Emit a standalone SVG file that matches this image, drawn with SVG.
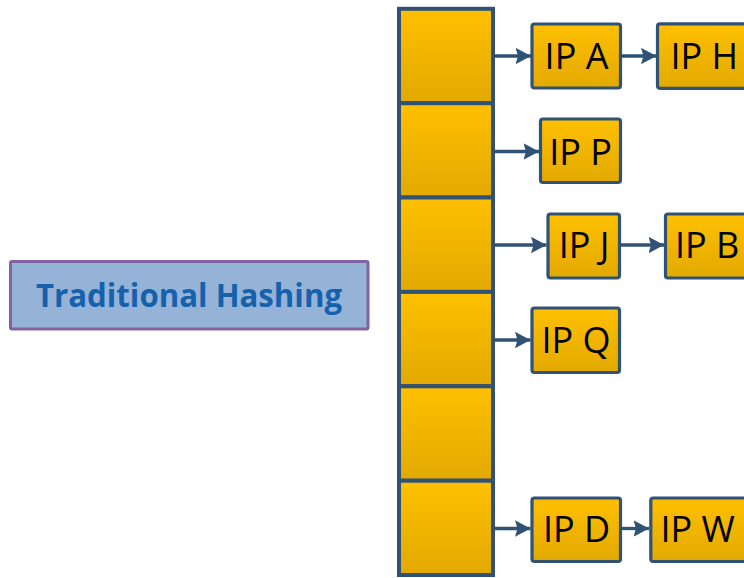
<svg xmlns="http://www.w3.org/2000/svg" width="744" height="578" viewBox="0 0 744 578">
  <defs>
    <linearGradient id="gold" x1="0" y1="0" x2="0" y2="1">
      <stop offset="0" stop-color="#FFC000"/>
      <stop offset="1" stop-color="#E2A900"/>
    </linearGradient>
    <marker id="arrow" markerUnits="userSpaceOnUse" markerWidth="16" markerHeight="17" viewBox="0 0 16 17" refX="15.5" refY="8.5" orient="auto">
      <path d="M0,0.3 L15.5,8.5 L0,16.7 L2.5,8.5 Z" fill="#2F5275"/>
    </marker>
  </defs>
  <style>
    .cell { fill: url(#gold); stroke: #2F5275; stroke-width: 4; }
    .ip rect { fill: url(#gold); stroke: #2F5275; stroke-width: 3.2; }
    .ip text { font-family: "Open Sans", "Liberation Sans", sans-serif; font-size: 36px; fill: #000; }
    .mid { text-anchor: middle; }
    .link { stroke: #2F5275; stroke-width: 3.3; fill: none; marker-end: url(#arrow); }
    .title rect { fill: #95B3D7; stroke: #8064A2; stroke-width: 3; }
    .title text { font-family: "Open Sans", "Liberation Sans", sans-serif; font-size: 33px; font-weight: bold; fill: #1661AC; text-anchor: middle; }
  </style>

  <!-- label -->
  <g id="title" class="title">
    <rect x="10.5" y="261.5" width="357.5" height="67.5" rx="1.5"/>
    <text x="189" y="307.3" textLength="306" lengthAdjust="spacingAndGlyphs">Traditional Hashing</text>
  </g>

  <!-- hash table buckets -->
  <g id="table">
    <rect id="bucket0" class="cell" x="399" y="8.8" width="94" height="94.4"/>
    <rect id="bucket1" class="cell" x="399" y="103.2" width="94" height="94.3"/>
    <rect id="bucket2" class="cell" x="399" y="197.5" width="94" height="94.4"/>
    <rect id="bucket3" class="cell" x="399" y="291.9" width="94" height="94.4"/>
    <rect id="bucket4" class="cell" x="399" y="386.3" width="94" height="94.4"/>
    <rect id="bucket5" class="cell" x="399" y="480.7" width="94" height="94.3"/>
  </g>

  <!-- chain links -->
  <g id="connectors">
    <line class="link" x1="493" y1="56" x2="531" y2="56"/>
    <line class="link" x1="621" y1="56" x2="656.5" y2="56"/>
    <line class="link" x1="493" y1="151.5" x2="539" y2="151.5"/>
    <line class="link" x1="493" y1="245" x2="546.5" y2="245"/>
    <line class="link" x1="620.5" y1="245" x2="664" y2="245"/>
    <line class="link" x1="493" y1="340" x2="530.5" y2="340"/>
    <line class="link" x1="493" y1="528.5" x2="530.5" y2="528.5"/>
    <line class="link" x1="621" y1="528.5" x2="649" y2="528.5"/>
  </g>

  <!-- bucket 0 chain -->
  <g id="ipA" class="ip">
    <rect x="532" y="24" width="88.5" height="64" rx="2.5"/>
    <text class="mid" x="576.5" y="69.3">IP A</text>
  </g>
  <g id="ipH" class="ip">
    <rect x="657.5" y="23.8" width="92" height="64.5" rx="2.5"/>
    <text x="670.5" y="69.3">IP H</text>
  </g>

  <!-- bucket 1 chain -->
  <g id="ipP" class="ip">
    <rect x="540.5" y="119" width="80" height="63.5" rx="2.5"/>
    <text class="mid" x="580.5" y="164.7">IP P</text>
  </g>

  <!-- bucket 2 chain -->
  <g id="ipJ" class="ip">
    <rect x="548" y="214" width="71.5" height="64" rx="2.5"/>
    <text class="mid" x="584" y="258.3">IP J</text>
  </g>
  <g id="ipB" class="ip">
    <rect x="665.5" y="214" width="90" height="64" rx="2.5"/>
    <text x="675" y="258.3">IP B</text>
  </g>

  <!-- bucket 3 chain -->
  <g id="ipQ" class="ip">
    <rect x="532" y="308" width="87.5" height="64.5" rx="2.5"/>
    <text class="mid" x="576" y="353">IP Q</text>
  </g>

  <!-- bucket 5 chain -->
  <g id="ipD" class="ip">
    <rect x="532" y="498" width="88.5" height="63.5" rx="2.5"/>
    <text class="mid" x="576.5" y="541.5">IP D</text>
  </g>
  <g id="ipW" class="ip">
    <rect x="650.8" y="498" width="100" height="63.5" rx="2.5"/>
    <text x="660.5" y="541.5">IP W</text>
  </g>
</svg>
